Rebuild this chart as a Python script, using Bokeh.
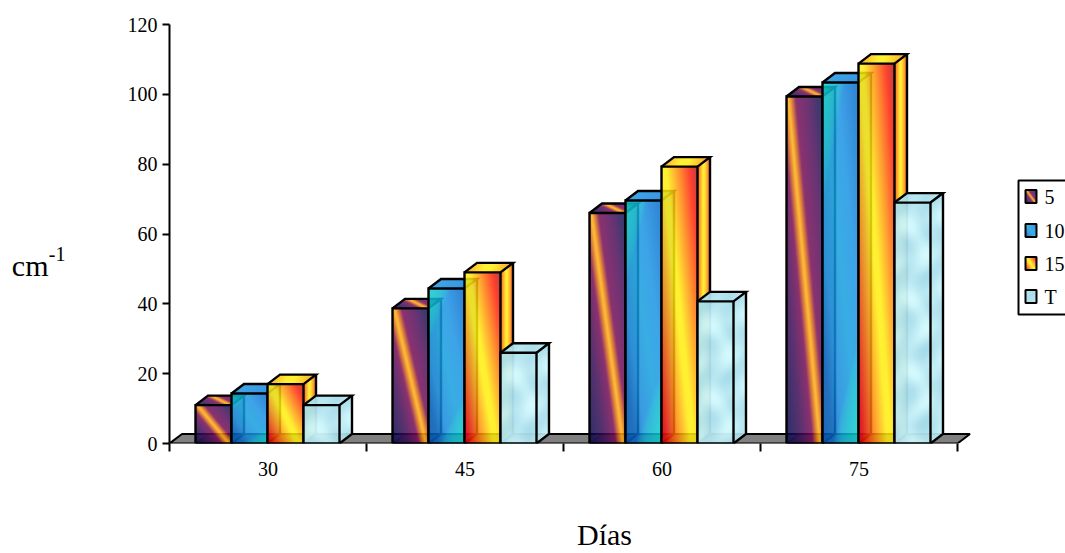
import numpy as np
from bokeh.plotting import figure
from bokeh.models import FixedTicker, LinearAxis, Range1d
from bokeh.core.properties import value
from bokeh.embed import file_html
from bokeh.resources import INLINE

categories = ["30", "45", "60", "75"]
series_names = ["5", "10", "15", "T"]
s5 = [11.0, 38.7, 66.0, 99.4]
s10 = [14.3, 44.4, 69.6, 103.4]
s15 = [17.0, 49.0, 79.3, 108.8]
sT = [11.0, 26.0, 40.7, 69.0]
y_ticks = [0, 20, 40, 60, 80, 100, 120]

W, H = 1065, 553
LEFT, TOP, BOTTOM = 169, 24, 443
GROUP = 197.0
UX = 1 / GROUP                     # data units per pixel
UY = 120.0 / (BOTTOM - TOP)
BAR_PX, OFF_PX, DX_PX, DY_PX = 36, 26, 12.5, 9.5
FONT = "Liberation Serif"
A_FRONT = 0.84
LW = 2.4


def fx(px):
    return (px - LEFT) * UX


def fy(py):
    return (BOTTOM - py) * UY


def ramp(s, stops):
    xs = [a for a, _ in stops]
    out = []
    for ch in range(3):
        out.append(np.interp(s, xs, [int(c[1 + 2 * ch:3 + 2 * ch], 16) for _, c in stops]))
    return np.stack(out, axis=-1)


STOPS = [
    [(-0.9, "#2c2f68"), (-0.5, "#5a3270"), (-0.2, "#8c3270"), (-0.08, "#e88a34"), (0.0, "#ffc23a"),
     (0.08, "#e88a34"), (0.2, "#8c3270"), (0.55, "#6a3474"), (0.9, "#363a6e")],
    [(-1, "#2a72c4"), (-0.7, "#2e7ecc"), (-0.42, "#3a9ce2"), (0, "#38aee4"), (0.4, "#3ea4e8"), (1, "#2f80d4")],
    [(-1, "#b81c38"), (-0.72, "#f8342c"), (-0.35, "#ffa030"), (-0.05, "#fff032"), (0.08, "#fff032"), (0.38, "#ffa030"), (0.72, "#ff4030"), (1, "#a84048")],
]
TEAL = np.array([48.0, 214.0, 210.0])


def water(xx, yy):
    n = (np.sin(xx * 0.21 + 1.8 * np.sin(yy * 0.09)) + np.sin(yy * 0.17 + xx * 0.06)
         + 0.7 * np.sin((xx - yy) * 0.09))
    base = np.array([190.0, 235.0, 244.0])
    tone = np.array([-9.0, -6.0, -4.0])
    return base + n[..., None] * tone


def tex(k, s, xx, yy):
    return water(xx, yy) if k == 3 else ramp(s, STOPS[k])


def rgba(rgb, alpha):
    c = np.clip((rgb - (1 - alpha[..., None]) * 255 * (alpha[..., None] > 0))
                / np.maximum(alpha[..., None], 0.01), 0, 255).astype(np.uint32)
    a = (alpha * 255).astype(np.uint32)
    img = c[..., 0] | (c[..., 1] << 8) | (c[..., 2] << 16) | (a << 24)
    return img[::-1]        # Bokeh's row 0 is the bottom row


def front_img(k, hpx, wpx=BAR_PX, alpha=A_FRONT):
    h = max(int(round(hpx)), 1)
    yy, xx = np.mgrid[0:h, 0:wpx]
    u, v = (xx + 0.5) / wpx, (yy + 0.5) / h
    s = {0: u - 0.05 - 0.88 * v, 2: u - 0.05 - 0.8 * v}.get(k, u - v)
    rgb = tex(k, s, xx, yy)
    if k == 1:
        t = np.clip(1 - ((1 - u) / 0.7 + (1 - v) / 0.3), 0, 1)[..., None]
        t2 = np.clip(1 - (u / 0.6 + v / 0.35), 0, 1)[..., None]
        t = np.maximum(t, t2) ** 0.6
        rgb = rgb * (1 - t) + TEAL * t
    return rgba(rgb, np.full((h, wpx), alpha))


def side_img(k, hpx):
    h = int(np.ceil(hpx + DY_PX))
    w = int(np.ceil(DX_PX))
    yy, xx = np.mgrid[0:h, 0:w]
    f = (xx + 0.5) / DX_PX
    top = DY_PX * (1 - f)
    mask = ((yy + 0.5) >= top) & ((yy + 0.5) <= top + hpx) & (f <= 1)
    if k == 0:
        s = 0.42 + 0.35 * f - 0.3 * (yy / h)
    elif k == 1:
        s = 0.7 - 0.2 * f
    else:
        s = 0.62 * (2 * f - 1) + 0.02
    return rgba(tex(k, s, xx, yy), mask * {0: 0.3, 1: 0.5}.get(k, 0.92))


def top_img(k):
    h = int(np.ceil(DY_PX))
    w = BAR_PX + int(np.ceil(DX_PX))
    yy, xx = np.mgrid[0:h, 0:w]
    d = 1 - (yy + 0.5) / DY_PX
    shift = d * DX_PX
    u = (xx + 0.5 - shift) / BAR_PX
    mask = (u >= 0) & (u <= 1)
    if k == 0:
        s = u - 0.05 - 0.88 * (1 - d)
    elif k == 1:
        s = 0.35 + 0.3 * u
    else:
        s = 0.55 * (u - 0.45) + 0.12 * (d - 0.5)
    return rgba(tex(k, s, xx, yy), mask * 0.95)


p = figure(width=W, height=H, output_backend="svg", toolbar_location=None,
           x_range=Range1d(0, (W - LEFT) * UX), y_range=Range1d(0, 120),
           min_border_left=LEFT, min_border_right=0, min_border_top=TOP, min_border_bottom=H - BOTTOM,
           outline_line_color=None, background_fill_color="white", border_fill_color="white")
p.grid.visible = False

# axes
xa, ya = p.xaxis[0], p.yaxis[0]
ya.ticker = FixedTicker(ticks=y_ticks)
ya.axis_line_color = "black"
ya.axis_line_width = 2
ya.major_tick_in = 0
ya.major_tick_out = 7
ya.major_tick_line_width = 2
ya.minor_tick_line_color = None
ya.major_label_standoff = 5
ya.major_label_text_font = FONT
ya.major_label_text_font_size = "20px"
ya.major_label_text_color = "black"

centres = [i + 0.5 for i in range(len(categories))]
xa.ticker = FixedTicker(ticks=centres, minor_ticks=list(range(len(categories) + 1)))
xa.major_label_overrides = {c: t for c, t in zip(centres, categories)}
xa.axis_line_color = None
xa.major_tick_line_color = None
xa.minor_tick_in = 0
xa.minor_tick_out = 8
xa.minor_tick_line_width = 2
xa.minor_tick_line_color = "black"
xa.major_label_standoff = 10
xa.major_label_text_font = FONT
xa.major_label_text_font_size = "20px"
xa.major_label_text_color = "black"


# axis titles: bare axes in the side panels, each carrying one label
def title_axis(where, pos, text, size, standoff):
    ax = LinearAxis(ticker=FixedTicker(ticks=[pos]), major_label_overrides={pos: text},
                    axis_line_color=None, major_tick_line_color=None, minor_tick_line_color=None,
                    major_tick_in=0, major_tick_out=0, major_label_standoff=standoff,
                    major_label_text_font=FONT, major_label_text_font_size=size,
                    major_label_text_color="black")
    p.add_layout(ax, where)


title_axis("left", fy(253), "-1", "20px", 59)
title_axis("left", fy(265), "cm", "30px", -3)
title_axis("below", fx(604), "Días", "30px", 39)

DX, DY = DX_PX * UX, DY_PX * UY
n = len(categories)

# floor
p.patch([0, DX, n + DX, n], [0, DY, DY, 0], fill_color="#808080", line_color="black", line_width=2)

# bars
all_series = [s5, s10, s15, sT]
for g in range(n):
    for k, vals in enumerate(all_series):
        val = vals[g]
        x0 = g + (OFF_PX + k * BAR_PX) * UX
        x1 = x0 + BAR_PX * UX
        hpx = val / UY
        # bottom face
        p.patch([x0, x0 + DX, x1 + DX, x1], [0, DY, DY, 0], fill_color="black", fill_alpha=0.22,
                line_color="black", line_alpha=0.35, line_width=1.5)
        # side and top faces
        p.image_rgba(image=[side_img(k, hpx)], x=x1, y=0, dw=np.ceil(DX_PX) * UX,
                     dh=np.ceil(hpx + DY_PX) * UY)
        p.image_rgba(image=[top_img(k)], x=x0, y=val, dw=(BAR_PX + np.ceil(DX_PX)) * UX,
                     dh=np.ceil(DY_PX) * UY)
        # front
        p.image_rgba(image=[front_img(k, hpx, alpha=(0.95 if k == 3 else A_FRONT))], x=x0, y=0,
                     dw=BAR_PX * UX, dh=val)
        # outlines
        p.multi_line(xs=[[x0, x0, x1, x1, x0],
                         [x0, x0 + DX, x1 + DX, x1],
                         [x1 + DX, x1 + DX, x1]],
                     ys=[[0, val, val, 0, 0],
                         [val, val + DY, val + DY, val],
                         [val + DY, DY, 0]],
                     line_color="black", line_width=LW, line_join="miter")

# legend, drawn from the same textures
p.quad(left=fx(1018), right=fx(1075), top=fy(180), bottom=fy(314), fill_color="white",
       line_color="black", line_width=2)
rows_y = [196, 230, 263, 296]
for k, name in enumerate(series_names):
    yc = rows_y[k]
    p.image_rgba(image=[front_img(k, 13, wpx=11, alpha=1.0)], x=fx(1025), y=fy(yc + 6.5),
                 dw=11 * UX, dh=13 * UY)
    p.quad(left=fx(1025), right=fx(1036), top=fy(yc - 6.5), bottom=fy(yc + 6.5), fill_color=None,
           line_color="black", line_width=2)
    p.text(x=[fx(1044)], y=[fy(yc)], text=[name], text_font=value(FONT), text_font_size="20px",
           text_baseline="middle", text_align="left", text_color="black")

open("out.html", "w").write(file_html(p, INLINE))
